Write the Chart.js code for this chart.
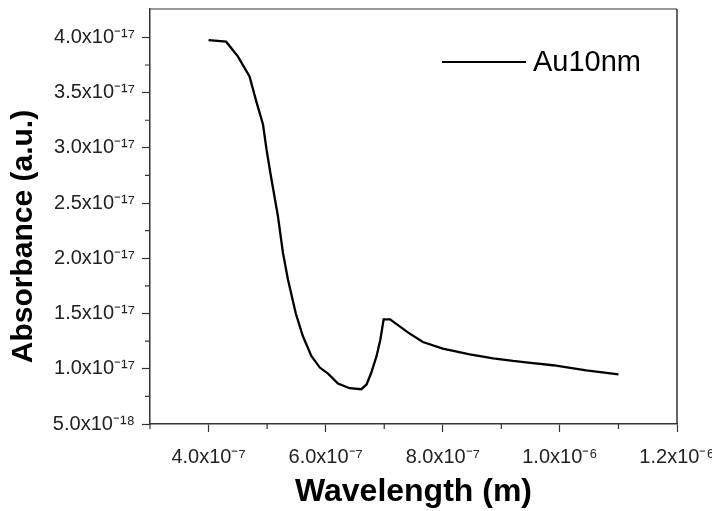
<!DOCTYPE html>
<html>
<head>
<meta charset="utf-8">
<script src="https://cdn.jsdelivr.net/npm/chart.js@4.4.0/dist/chart.umd.min.js"></script>
<style>
    html, body { margin: 0; padding: 0; background: #fff; }
    #wrap { width: 712px; height: 511px; }
</style>
</head>
<body>
<div id="wrap"><canvas id="absChart" width="712" height="511"></canvas></div>
<script>
// wavelength (m) and absorbance (a.u.)
var seriesName = "Au10nm";
var wavelength = [4.00e-7, 4.30e-7, 4.50e-7, 4.70e-7, 4.815e-7, 4.93e-7, 4.99e-7, 5.06e-7,
    5.185e-7, 5.27e-7, 5.356e-7, 5.49e-7, 5.61e-7, 5.755e-7, 5.90e-7, 6.04e-7, 6.21e-7,
    6.41e-7, 6.61e-7, 6.70e-7, 6.78e-7, 6.87e-7, 6.935e-7, 6.99e-7, 7.10e-7, 7.41e-7, 7.66e-7,
    8.00e-7, 8.46e-7, 8.86e-7, 9.20e-7, 9.46e-7, 9.88e-7, 1.045e-6, 1.10e-6];
var absorbance = [3.976e-17, 3.961e-17, 3.828e-17, 3.647e-17, 3.421e-17, 3.211e-17, 2.985e-17, 2.759e-17,
    2.381e-17, 2.051e-17, 1.809e-17, 1.500e-17, 1.296e-17, 1.116e-17, 1.011e-17, 0.956e-17, 0.866e-17,
    0.824e-17, 0.815e-17, 0.860e-17, 0.966e-17, 1.116e-17, 1.267e-17, 1.447e-17, 1.447e-17, 1.327e-17, 1.242e-17,
    1.182e-17, 1.131e-17, 1.095e-17, 1.071e-17, 1.056e-17, 1.032e-17, 0.986e-17, 0.950e-17];

var xTickValues = [4e-7, 6e-7, 8e-7, 1e-6, 1.2e-6];
var xTickLabels = ["4.0x10\u207B\u2077", "6.0x10\u207B\u2077", "8.0x10\u207B\u2077", "1.0x10\u207B\u2076", "1.2x10\u207B\u2076"];
var xMinorTicks = [3e-7, 5e-7, 7e-7, 9e-7, 1.1e-6];

var yTickValues = [5e-18, 1e-17, 1.5e-17, 2e-17, 2.5e-17, 3e-17, 3.5e-17, 4e-17];
var yTickLabels = ["5.0x10\u207B\u00B9\u2078", "1.0x10\u207B\u00B9\u2077", "1.5x10\u207B\u00B9\u2077", "2.0x10\u207B\u00B9\u2077",
    "2.5x10\u207B\u00B9\u2077", "3.0x10\u207B\u00B9\u2077", "3.5x10\u207B\u00B9\u2077", "4.0x10\u207B\u00B9\u2077"];
var yMinorTicks = [7.5e-18, 1.25e-17, 1.75e-17, 2.25e-17, 2.75e-17, 3.25e-17, 3.75e-17];

var FONT = "'Liberation Sans', Arial, sans-serif";

var points = wavelength.map(function (w, i) {
    return { x: w, y: absorbance[i] };
});

// frame on top/right, minor ticks, y title and legend inside the plot
var framePlugin = {
    id: 'frame',
    afterDatasetsDraw: function (chart) {
        var ctx = chart.ctx;
        var a = chart.chartArea;
        var xs = chart.scales.x, ys = chart.scales.y;
        ctx.save();
        ctx.lineWidth = 1.5;
        ctx.strokeStyle = '#777';
        ctx.beginPath();
        ctx.moveTo(a.left, a.top);
        ctx.lineTo(a.right, a.top);
        ctx.stroke();
        ctx.strokeStyle = '#333';
        ctx.beginPath();
        ctx.moveTo(a.right, a.top);
        ctx.lineTo(a.right, a.bottom);
        ctx.stroke();

        ctx.lineWidth = 1.2;
        ctx.beginPath();
        xMinorTicks.forEach(function (v) {
            var px = xs.getPixelForValue(v);
            ctx.moveTo(px, a.bottom);
            ctx.lineTo(px, a.bottom + 5);
        });
        yMinorTicks.forEach(function (v) {
            var py = ys.getPixelForValue(v);
            ctx.moveTo(a.left, py);
            ctx.lineTo(a.left - 5, py);
        });
        ctx.stroke();

        // y axis title, sits a bit below the middle like the original
        var yt = ys.options.title;
        ctx.save();
        ctx.translate(24, (a.top + a.bottom) / 2 + 20);
        ctx.rotate(-Math.PI / 2);
        ctx.fillStyle = '#000';
        ctx.font = "bold 30px " + FONT;
        ctx.textAlign = 'center';
        ctx.textBaseline = 'middle';
        ctx.fillText(yt.text, 0, 0);
        ctx.restore();

        // legend
        var lx = a.left + 292, ly = a.top + 53;
        ctx.strokeStyle = '#000';
        ctx.lineWidth = 2;
        ctx.beginPath();
        ctx.moveTo(lx, ly);
        ctx.lineTo(lx + 84, ly);
        ctx.stroke();
        ctx.fillStyle = '#000';
        ctx.font = "29px " + FONT;
        ctx.textBaseline = 'middle';
        ctx.textAlign = 'left';
        ctx.fillText(chart.data.datasets[0].label, lx + 91, ly + 1);
        ctx.restore();
    }
};

var ctx = document.getElementById('absChart');
var absChart = new Chart(ctx, {
    type: 'line',
    data: {
        datasets: [{
            label: seriesName,
            data: points,
            borderColor: '#000',
            backgroundColor: '#000',
            borderWidth: 2.3,
            pointRadius: 0,
            tension: 0,
            fill: false
        }]
    },
    options: {
        responsive: false,
        animation: false,
        events: [],
        layout: { padding: { top: 9, right: 35, left: 0, bottom: 0 } },
        plugins: {
            legend: { display: false },
            tooltip: { enabled: false }
        },
        scales: {
            x: {
                type: 'linear',
                min: 3e-7,
                max: 1.2e-6,
                afterBuildTicks: function (scale) {
                    scale.ticks = xTickValues.map(function (v) { return { value: v }; });
                },
                afterFit: function (scale) {
                    scale.height = 87;
                    scale.paddingLeft = 0;
                    scale.paddingRight = 0;
                },
                grid: { drawOnChartArea: false, drawTicks: true, tickLength: 8, tickColor: '#333', tickWidth: 1.2 },
                border: { display: true, color: '#333', width: 1.5 },
                ticks: {
                    autoSkip: false,
                    maxRotation: 0,
                    padding: 13,
                    color: '#222',
                    font: { family: FONT, size: 20 },
                    callback: function (v, i) { return xTickLabels[i]; }
                },
                title: {
                    display: true,
                    text: 'Wavelength (m)',
                    color: '#000',
                    font: { family: FONT, size: 32, weight: 'bold', lineHeight: 1.2 },
                    padding: { top: 0, bottom: 0 }
                }
            },
            y: {
                type: 'linear',
                min: 5e-18,
                max: 4.257e-17,
                afterBuildTicks: function (scale) {
                    scale.ticks = yTickValues.map(function (v) { return { value: v }; });
                },
                afterFit: function (scale) {
                    scale.width = 150;
                    scale.paddingTop = 0;
                    scale.paddingBottom = 0;
                },
                grid: { drawOnChartArea: false, drawTicks: true, tickLength: 8, tickColor: '#333', tickWidth: 1.2 },
                border: { display: true, color: '#333', width: 1.5 },
                ticks: {
                    autoSkip: false,
                    padding: 7,
                    color: '#222',
                    font: { family: FONT, size: 20 },
                    callback: function (v, i) { return yTickLabels[i]; }
                },
                title: {
                    display: false,
                    text: 'Absorbance (a.u.)'
                }
            }
        }
    },
    plugins: [framePlugin]
});
</script>
</body>
</html>
